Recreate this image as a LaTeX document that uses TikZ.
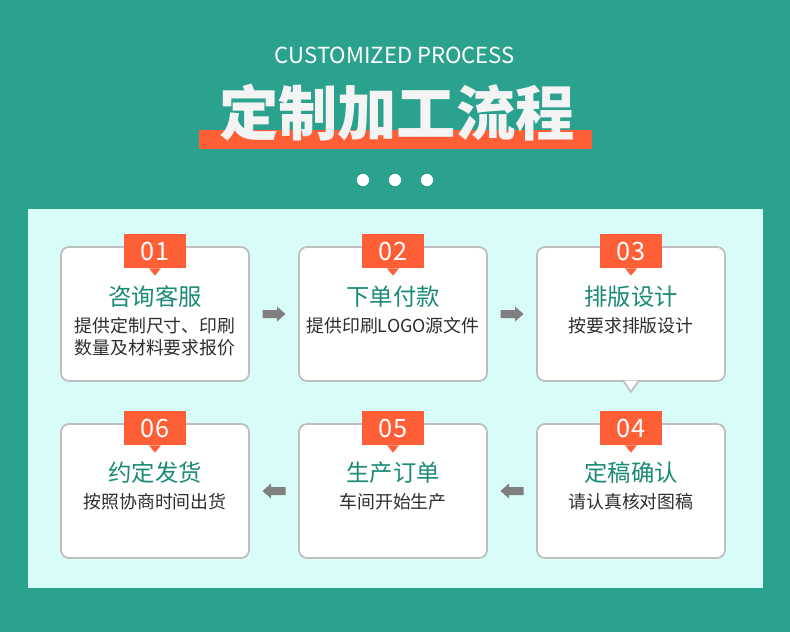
\documentclass[tikz,border=0pt]{standalone}
\usepackage{fontspec}
\newfontfamily\cjk{Noto Sans CJK SC}
\usetikzlibrary{calc}
\definecolor{bgteal}{HTML}{2AA28E}
\definecolor{panelc}{HTML}{D8FCF8}
\definecolor{orangec}{HTML}{FF5F36}
\definecolor{titleteal}{HTML}{1B8A76}
\definecolor{desctext}{HTML}{2E2E2E}
\definecolor{cardborder}{HTML}{BEBEBE}
\definecolor{arrowgray}{HTML}{7F7F7F}
\definecolor{titlewhite}{HTML}{F4F4F4}
\tikzset{
  card/.style={draw=cardborder, line width=1.3pt, fill=white, rounded corners=6pt,
    minimum width=141pt, minimum height=100.5pt, inner sep=0pt},
  badge/.style={fill=orangec, text=white, minimum width=46.5pt, minimum height=25.5pt,
    inner sep=0pt, font=\cjk\fontsize{19}{19}\selectfont},
  steptitle/.style={text=titleteal, inner sep=0pt, font=\cjk\fontsize{17.5}{17.5}\selectfont},
  stepdesc/.style={text=desctext, inner sep=0pt, align=center, font=\cjk\fontsize{13.4}{16.5}\selectfont},
}
\newcommand{\badgetip}[1]{\fill[orangec] ([xshift=-4.5pt]#1.south) -- ([xshift=4.5pt]#1.south) -- ([yshift=-5.5pt]#1.south) -- cycle;}
% block arrow around a named coordinate; #2 = 1 (right) or -1 (left)
\newcommand{\blockarrow}[2]{\fill[arrowgray] ($(#1)+(#2*-11.5,-4)$) -- ($(#1)+(#2*3,-4)$) -- ($(#1)+(#2*3,-7.5)$) -- ($(#1)+(#2*11.5,0)$) -- ($(#1)+(#2*3,7.5)$) -- ($(#1)+(#2*3,4)$) -- ($(#1)+(#2*-11.5,4)$) -- cycle;}
\begin{document}
\begin{tikzpicture}[x=0.75pt,y=-0.75pt]
\fill[bgteal] (0,0) rectangle (790,632);
\useasboundingbox (0,0) rectangle (790,632);
\fill[panelc] (28,209) rectangle (763,588);
% heading
\node[text=white, inner sep=0pt, font=\cjk\fontsize{16.6}{16.6}\selectfont] (sub) at (395,55) {CUSTOMIZED PROCESS};
\fill[orangec] (199,130) rectangle (592,149);
\node[text=titlewhite, inner sep=0pt, font=\cjk\bfseries\fontsize{44.5}{44.5}\selectfont] (head) at (397,113) {定制加工流程};
\fill[white] (363,180) circle[radius=4.6pt] (395,180) circle[radius=4.6pt] (427,180) circle[radius=4.6pt];
% cards
\node[card] (c1) at (155,314) {};
\node[card] (c2) at (393,314) {};
\node[card] (c3) at (631,314) {};
\node[card] (c4) at (631,491) {};
\node[card] (c5) at (393,491) {};
\node[card] (c6) at (155,491) {};
% callout pointer of card 3
\fill[white] ([xshift=-5.25pt,yshift=1pt]c3.south) -- ([xshift=5.25pt,yshift=1pt]c3.south) -- ([yshift=-7.5pt]c3.south) -- cycle;
\draw[cardborder, line width=1.3pt, line join=round] ([xshift=-5.25pt]c3.south) -- ([yshift=-7.5pt]c3.south) -- ([xshift=5.25pt]c3.south);
% badges
\node[badge] (b1) at (155,251) {01}; \badgetip{b1}
\node[badge] (b2) at (393,251) {02}; \badgetip{b2}
\node[badge] (b3) at (631,251) {03}; \badgetip{b3}
\node[badge] (b4) at (631,428) {04}; \badgetip{b4}
\node[badge] (b5) at (393,428) {05}; \badgetip{b5}
\node[badge] (b6) at (155,428) {06}; \badgetip{b6}
% titles
\node[steptitle] (t1) at (155,297) {咨询客服};
\node[steptitle] (t2) at (393,297) {下单付款};
\node[steptitle] (t3) at (631,297) {排版设计};
\node[steptitle] (t4) at (631,473) {定稿确认};
\node[steptitle] (t5) at (393,473) {生产订单};
\node[steptitle] (t6) at (155,473) {约定发货};
% descriptions
\node[stepdesc] (d1) at (155,337) {提供定制尺寸、印刷\\数量及材料要求报价};
\node[stepdesc] (d2) at (393,326) {提供印刷LOGO源文件};
\node[stepdesc] (d3) at (631,326) {按要求排版设计};
\node[stepdesc] (d4) at (631,502) {请认真核对图稿};
\node[stepdesc] (d5) at (393,502) {车间开始生产};
\node[stepdesc] (d6) at (155,502) {按照协商时间出货};
% arrows
\coordinate (a12) at ($(c1)!0.5!(c2)$);
\coordinate (a23) at ($(c2)!0.5!(c3)$);
\coordinate (a45) at ($(c4)!0.5!(c5)$);
\coordinate (a56) at ($(c5)!0.5!(c6)$);
\blockarrow{a12}{1}
\blockarrow{a23}{1}
\blockarrow{a45}{-1}
\blockarrow{a56}{-1}
\end{tikzpicture}
\end{document}
